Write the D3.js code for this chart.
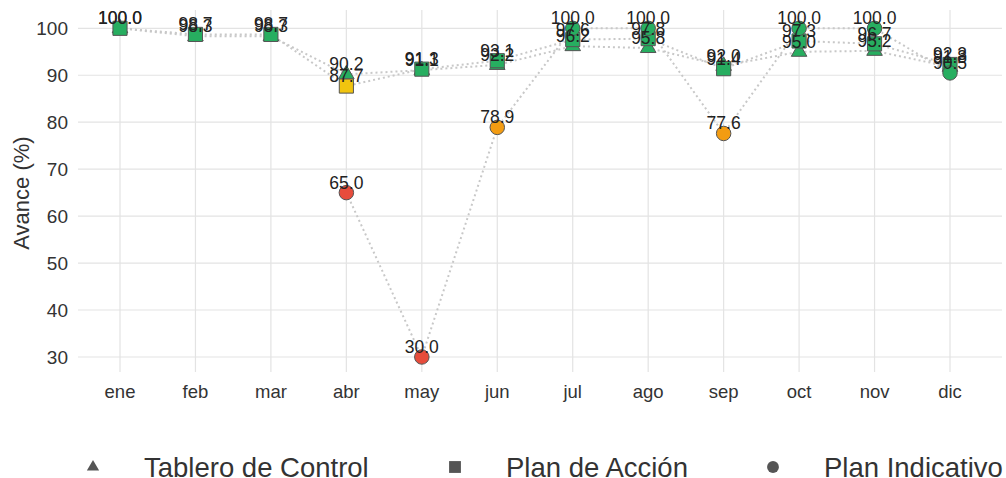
<!DOCTYPE html>
<html>
<head>
<meta charset="utf-8">
<script src="https://cdn.jsdelivr.net/npm/d3@7"></script>
<style>
  body { margin: 0; background: #fff; }
  svg { font-family: "Liberation Sans", Arial, sans-serif; }
</style>
</head>
<body>
<svg width="1006" height="478"></svg>
<script>
var months = ["ene", "feb", "mar", "abr", "may", "jun", "jul", "ago", "sep", "oct", "nov", "dic"];
var tablero = [100.0, 98.3, 98.3, 90.2, 91.1, 92.2, 96.2, 95.8, 92.0, 95.0, 95.2, 91.8];
var accion = [100.0, 98.7, 98.7, 87.7, 91.3, 93.1, 97.6, 97.8, 91.4, 97.3, 96.7, 92.3];
var indicativo = [null, null, null, 65.0, 30.0, 78.9, 100.0, 100.0, 77.6, 100.0, 100.0, 90.5];
var yTicks = [30, 40, 50, 60, 70, 80, 90, 100];

var series = [
  {name: "Tablero de Control", values: tablero, shape: d3.symbolTriangle, size: 105, legendSize: 65},
  {name: "Plan de Acción", values: accion, shape: d3.symbolSquare, size: 200, legendSize: 140},
  {name: "Plan Indicativo", values: indicativo, shape: d3.symbolCircle, size: 165, legendSize: 110}
];

function colorFor(v) {
  if (v >= 90) return "#27ae60";
  if (v >= 85) return "#f1c40f";
  if (v >= 70) return "#f39c12";
  return "#e74c3c";
}

var svg = d3.select("svg");
var x = d3.scalePoint().domain(months).range([120, 950]);
var y = d3.scaleLinear().domain([26.8, 103.9]).range([372, 10]);

// grid
svg.append("g").selectAll("line").data(yTicks).enter().append("line")
    .attr("x1", 78).attr("x2", 1002)
    .attr("y1", function(d) {return y(d);}).attr("y2", function(d) {return y(d);})
    .attr("stroke", "#e3e3e3").attr("stroke-width", 1.2);
svg.append("g").selectAll("line").data(months).enter().append("line")
    .attr("x1", function(d) {return x(d);}).attr("x2", function(d) {return x(d);})
    .attr("y1", 10).attr("y2", 372)
    .attr("stroke", "#e3e3e3").attr("stroke-width", 1.2);

// axes text
svg.append("g").selectAll("text").data(yTicks).enter().append("text")
    .attr("x", 68).attr("y", function(d) {return y(d);})
    .attr("dy", "0.36em").attr("text-anchor", "end")
    .attr("font-size", 19).attr("fill", "#333")
    .text(function(d) {return d;});
svg.append("g").selectAll("text").data(months).enter().append("text")
    .attr("x", function(d) {return x(d);}).attr("y", 391)
    .attr("dy", "0.36em").attr("text-anchor", "middle")
    .attr("font-size", 18.5).attr("fill", "#333")
    .text(function(d) {return d;});
svg.append("text")
    .attr("transform", "translate(21,193) rotate(-90)")
    .attr("text-anchor", "middle").attr("dy", "0.36em")
    .attr("font-size", 22).attr("fill", "#333")
    .text("Avance (%)");

// lines
var line = d3.line()
    .defined(function(d) {return d != null;})
    .x(function(d, i) {return x(months[i]);})
    .y(function(d) {return y(d);});

series.forEach(function(s) {
  svg.append("path")
      .attr("d", line(s.values))
      .attr("fill", "none")
      .attr("stroke", "#c8c8c8")
      .attr("stroke-width", 2)
      .attr("stroke-dasharray", "2,3");
});

// points
series.forEach(function(s) {
  var pts = s.values.map(function(v, i) {return {m: months[i], v: v};})
      .filter(function(d) {return d.v != null;});
  svg.append("g").selectAll("path").data(pts).enter().append("path")
      .attr("d", d3.symbol().type(s.shape).size(s.size))
      .attr("transform", function(d) {return "translate(" + x(d.m) + "," + y(d.v) + ")";})
      .attr("fill", function(d) {return colorFor(d.v);})
      .attr("stroke", "#555")
      .attr("stroke-width", 1);
});

// labels
series.forEach(function(s) {
  var pts = s.values.map(function(v, i) {return {m: months[i], v: v};})
      .filter(function(d) {return d.v != null;});
  svg.append("g").selectAll("text").data(pts).enter().append("text")
      .attr("x", function(d) {return x(d.m);})
      .attr("y", function(d) {return y(d.v) - 4;})
      .attr("text-anchor", "middle")
      .attr("font-size", 17.5).attr("fill", "#222")
      .text(function(d) {return d.v.toFixed(1);});
});

// legend
var legendX = [93, 455, 773];
var legend = svg.append("g").selectAll("g").data(series).enter().append("g")
    .attr("transform", function(d, i) {return "translate(" + legendX[i] + ",467)";});
legend.append("path")
    .attr("d", function(d) {return d3.symbol().type(d.shape).size(d.legendSize)();})
    .attr("fill", "#555");
legend.append("text")
    .attr("x", 51).attr("dy", "0.35em")
    .attr("font-size", 27.5).attr("fill", "#333")
    .text(function(d) {return d.name;});
</script>
</body>
</html>
